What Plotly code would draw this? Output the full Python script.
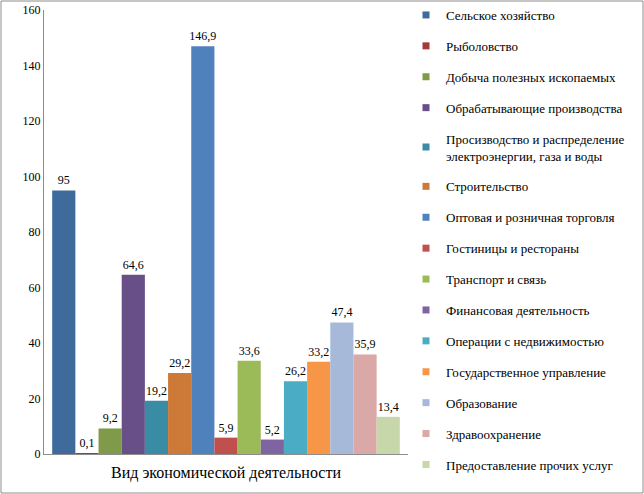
import plotly.graph_objects as go

categories = [
    "Сельское хозяйство",
    "Рыболовство",
    "Добыча полезных ископаемых",
    "Обрабатывающие производства",
    "Просизводство и распределение<br>электроэнергии, газа и воды",
    "Строительство",
    "Оптовая и розничная торговля",
    "Гостиницы и рестораны",
    "Транспорт и связь",
    "Финансовая деятельность",
    "Операции с недвижимостью",
    "Государственное управление",
    "Образование",
    "Здравоохранение",
    "Предоставление прочих услуг",
]
values = [95, 0.1, 9.2, 64.6, 19.2, 29.2, 146.9, 5.9, 33.6, 5.2, 26.2, 33.2, 47.4, 35.9, 13.4]
colors = [
    "#3E6A9C", "#A33A37", "#7F9A48", "#694F87", "#3A8CA4",
    "#CD7A38", "#4F81BD", "#C0504D", "#9BBB59", "#8064A2",
    "#4BACC6", "#F79646", "#A7B9D8", "#D9A8A7", "#C8D7AA",
]
x_label = "Вид экономической деятельности"

SERIF = "Liberation Serif, Times New Roman, serif"

fig = go.Figure()
for i, (name, v, c) in enumerate(zip(categories, values, colors)):
    fig.add_trace(go.Bar(
        x=[x_label], y=[v], name=name, showlegend=False,
        marker=dict(color=c, line=dict(width=0)),
        text=[("%g" % v).replace(".", ",")], textposition="outside",
        textfont=dict(family=SERIF, size=12, color="black"),
        cliponaxis=False, constraintext="none",
    ))
    # small square legend markers
    fig.add_trace(go.Scatter(
        x=[None], y=[None], mode="markers", name=name, legendgroup=str(i),
        marker=dict(symbol="square", size=7, color=c),
    ))

W, H = 644, 494
l, r, t, b = 44, 236, 10, 40
pw, ph = W - l - r, H - t - b

fig.update_layout(
    width=W, height=H,
    margin=dict(l=l, r=r, t=t, b=b, autoexpand=False),
    barmode="group", bargap=0.045, bargroupgap=0,
    plot_bgcolor="white", paper_bgcolor="white",
    font=dict(family=SERIF, size=12, color="black"),
    showlegend=True,
    legend=dict(
        x=(406 - l) / pw, xanchor="left",
        yref="container", y=1.008, yanchor="top", maxheight=1,
        font=dict(family=SERIF, size=13, color="black"),
        tracegroupgap=11, itemwidth=30, bgcolor="rgba(0,0,0,0)",
    ),
    shapes=[dict(
        type="rect", xref="paper", yref="paper",
        x0=-(l - 1) / pw, x1=1 + (r - 1) / pw,
        y0=-(b - 1) / ph, y1=1 + (t - 1) / ph,
        line=dict(color="#8C8C8C", width=1), fillcolor="rgba(0,0,0,0)",
    )],
)
fig.update_xaxes(
    showline=True, linecolor="#8C8C8C", linewidth=1,
    tickfont=dict(family=SERIF, size=16, color="black"),
    ticks="", ticklabelstandoff=4,
)
fig.update_yaxes(
    range=[0, 160], dtick=20, showgrid=False, zeroline=False,
    showline=True, linecolor="#8C8C8C", linewidth=1,
    ticks="", tickfont=dict(family=SERIF, size=12, color="black"),
)

fig.write_html("out.html", config={"displayModeBar": False},
               post_script="document.body.style.margin='0';")
